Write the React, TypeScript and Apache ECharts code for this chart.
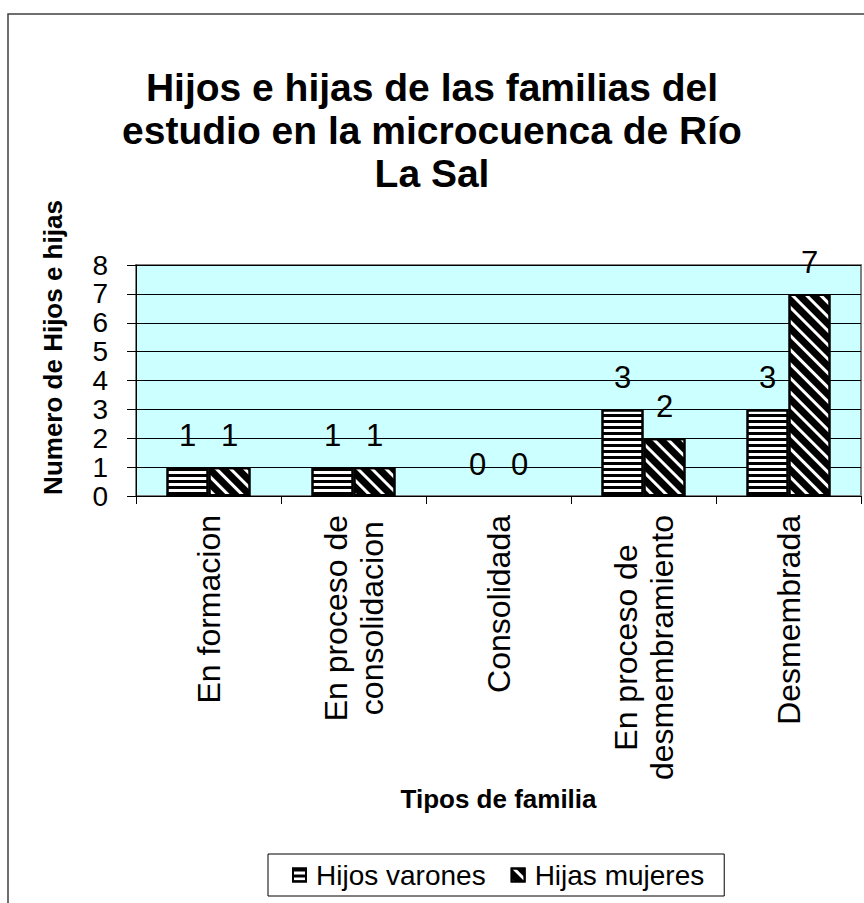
import React, { useEffect, useRef } from "react";
import * as echarts from "echarts";

const titleText = "Hijos e hijas de las familias del\nestudio en la microcuenca de Río\nLa Sal";
const categories = [
  "En formacion",
  "En proceso de\nconsolidacion",
  "Consolidada",
  "En proceso de\ndesmembramiento",
  "Desmembrada",
];
const seriesNames = ["Hijos varones", "Hijas mujeres"];
const hijosVarones = [1, 1, 0, 3, 3];
const hijasMujeres = [1, 1, 0, 2, 7];
const yAxisName = "Numero de Hijos e hijas";
const xAxisName = "Tipos de familia";

const FONT = "'Liberation Sans', Arial, sans-serif";

const toData = (arr: number[]) =>
  arr.map((v) => (v === 0 ? { value: v, itemStyle: { borderWidth: 0 } } : v));

export default function App() {
  const ref = useRef<HTMLDivElement>(null);
  useEffect(() => {
    if (!ref.current) return;
    const chart = echarts.init(ref.current, null, { renderer: "svg" });
    const labelStyle = {
      show: true,
      position: "top" as const,
      distance: 16,
      fontSize: 31,
      fontFamily: FONT,
      color: "#000",
    };
    chart.setOption({
      animation: false,
      backgroundColor: "#fff",
      title: {
        text: titleText,
        left: "center",
        top: 61,
        textStyle: {
          fontSize: 39,
          lineHeight: 43,
          fontWeight: "bold",
          fontFamily: FONT,
          color: "#000",
        },
      },
      graphic: [
        {
          type: "rect",
          z: -10,
          shape: { x: 8, y: 14, width: 900, height: 950 },
          style: { fill: "none", stroke: "#404040", lineWidth: 1.5 },
        },
      ],
      legend: {
        left: 268,
        top: 854,
        orient: "horizontal",
        padding: [7, 20, 7, 24],
        borderColor: "#000",
        borderWidth: 1,
        itemWidth: 13,
        itemHeight: 13,
        itemGap: 25,
        icon: "rect",
        textStyle: { fontSize: 28, fontFamily: FONT, color: "#000", padding: [0, 0, 0, 5] },
        data: seriesNames,
      },
      grid: {
        left: 136,
        right: 3,
        top: 265,
        bottom: 407,
        show: true,
        backgroundColor: "#CCFFFF",
        borderColor: "#808080",
        borderWidth: 2,
        outerBoundsMode: "none",
        containLabel: false,
      },
      xAxis: {
        type: "category",
        data: categories,
        name: xAxisName,
        nameLocation: "middle",
        nameGap: 290,
        nameTextStyle: { fontSize: 26, fontWeight: "bold", fontFamily: FONT, color: "#000" },
        axisLine: { show: true, lineStyle: { color: "#000", width: 1 } },
        axisTick: { show: true, length: 8, inside: false, lineStyle: { color: "#000" } },
        axisLabel: {
          rotate: 90,
          margin: 19,
          interval: 0,
          fontSize: 32,
          fontFamily: FONT,
          color: "#000",
          lineHeight: 36,
          formatter: (v: string) => v.split("\n").map((l) => `{c|${l}}`).join("\n"),
          rich: {
            c: { align: "center", fontSize: 32, fontFamily: FONT, color: "#000", lineHeight: 36 },
          },
        },
        splitLine: { show: false },
      },
      yAxis: {
        type: "value",
        min: 0,
        max: 8,
        interval: 1,
        name: yAxisName,
        nameLocation: "middle",
        nameGap: 70,
        nameRotate: 90,
        nameTextStyle: {
          fontSize: 26,
          fontWeight: "bold",
          fontFamily: FONT,
          color: "#000",
          padding: [0, 0, 0, 66],
        },
        axisLine: { show: true, lineStyle: { color: "#000", width: 1 } },
        axisTick: { show: true, length: 9, inside: false, lineStyle: { color: "#000" } },
        axisLabel: {
          fontSize: 28,
          lineHeight: 22,
          fontFamily: FONT,
          color: "#000",
          margin: 28,
          showMinLabel: true,
          showMaxLabel: true,
          hideOverlap: false,
        },
        splitLine: { show: true, lineStyle: { color: "#000", width: 1 } },
      },
      series: [
        {
          name: seriesNames[0],
          type: "bar",
          data: toData(hijosVarones),
          barWidth: 42,
          barGap: "0%",
          itemStyle: {
            color: "#fff",
            borderColor: "#000",
            borderWidth: 2,
            decal: {
              symbol: "rect",
              symbolSize: 1,
              dashArrayX: [1, 0],
              dashArrayY: [3, 3],
              rotation: 0,
              color: "#000",
              backgroundColor: "#fff",
            },
          },
          label: labelStyle,
        },
        {
          name: seriesNames[1],
          type: "bar",
          data: toData(hijasMujeres),
          barWidth: 42,
          barGap: "0%",
          itemStyle: {
            color: "#fff",
            borderColor: "#000",
            borderWidth: 2,
            decal: {
              symbol: "rect",
              symbolSize: 1,
              dashArrayX: [1, 0],
              dashArrayY: [7, 3],
              rotation: Math.PI / 4,
              color: "#000",
              backgroundColor: "#fff",
            },
          },
          label: labelStyle,
        },
      ],
    });
    return () => chart.dispose();
  }, []);
  return (
    <div
      ref={ref}
      style={{ position: "absolute", left: 0, top: 0, width: 864, height: 903 }}
    />
  );
}
